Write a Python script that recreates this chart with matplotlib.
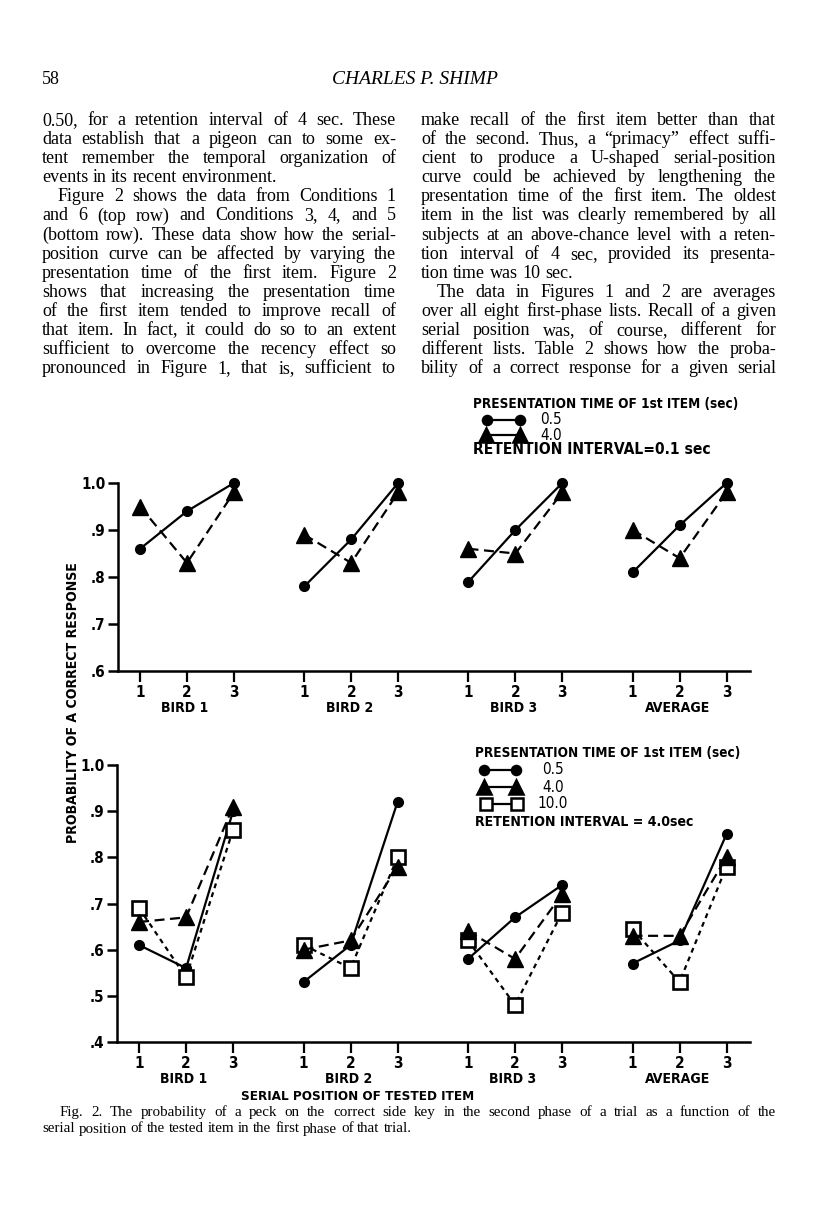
import numpy as np
import matplotlib
matplotlib.use('Agg')
import matplotlib.pyplot as plt
from matplotlib.lines import Line2D
from matplotlib import font_manager as fm

# ---------------- data ----------------
positions = [1, 2, 3]
pos_labels = ['1', '2', '3']
groups = ['BIRD 1', 'BIRD 2', 'BIRD 3', 'AVERAGE']

# top row: retention interval 0.1 sec
top_05 = [[0.86, 0.94, 1.00], [0.78, 0.88, 1.00], [0.79, 0.90, 1.00], [0.81, 0.91, 1.00]]
top_40 = [[0.95, 0.83, 0.98], [0.89, 0.83, 0.98], [0.86, 0.85, 0.98], [0.90, 0.84, 0.98]]

# bottom row: retention interval 4.0 sec
bot_05 = [[0.61, 0.56, 0.90], [0.53, 0.61, 0.92], [0.58, 0.67, 0.74], [0.57, 0.62, 0.85]]
bot_40 = [[0.66, 0.67, 0.91], [0.60, 0.62, 0.78], [0.64, 0.58, 0.72], [0.63, 0.63, 0.80]]
bot_100 = [[0.69, 0.54, 0.86], [0.61, 0.56, 0.80], [0.62, 0.48, 0.68], [0.645, 0.53, 0.78]]

legend_title = 'PRESENTATION TIME OF 1st ITEM (sec)'
top_retention = 'RETENTION INTERVAL=0.1 sec'
bot_retention = 'RETENTION INTERVAL = 4.0sec'
ylabel = 'PROBABILITY OF A CORRECT RESPONSE'
xlabel = 'SERIAL POSITION OF TESTED ITEM'

header_num = '58'
header_name = 'CHARLES P. SHIMP'

left_col = [
    ('0.50, for a retention interval of 4 sec. These', 0, True),
    ('data establish that a pigeon can to some ex-', 0, True),
    ('tent remember the temporal organization of', 0, True),
    ('events in its recent environment.', 0, False),
    ('Figure 2 shows the data from Conditions 1', 1, True),
    ('and 6 (top row) and Conditions 3, 4, and 5', 0, True),
    ('(bottom row). These data show how the serial-', 0, True),
    ('position curve can be affected by varying the', 0, True),
    ('presentation time of the first item. Figure 2', 0, True),
    ('shows that increasing the presentation time', 0, True),
    ('of the first item tended to improve recall of', 0, True),
    ('that item. In fact, it could do so to an extent', 0, True),
    ('sufficient to overcome the recency effect so', 0, True),
    ('pronounced in Figure 1, that is, sufficient to', 0, True),
]
right_col = [
    ('make recall of the first item better than that', 0, True),
    ('of the second. Thus, a \u201cprimacy\u201d effect suffi-', 0, True),
    ('cient to produce a U-shaped serial-position', 0, True),
    ('curve could be achieved by lengthening the', 0, True),
    ('presentation time of the first item. The oldest', 0, True),
    ('item in the list was clearly remembered by all', 0, True),
    ('subjects at an above-chance level with a reten-', 0, True),
    ('tion interval of 4 sec, provided its presenta-', 0, True),
    ('tion time was 10 sec.', 0, False),
    ('The data in Figures 1 and 2 are averages', 1, True),
    ('over all eight first-phase lists. Recall of a given', 0, True),
    ('serial position was, of course, different for', 0, True),
    ('different lists. Table 2 shows how the proba-', 0, True),
    ('bility of a correct response for a given serial', 0, True),
]
caption = [
    ('Fig. 2. The probability of a peck on the correct side key in the second phase of a trial as a function of the', 1, True),
    ('serial position of the tested item in the first phase of that trial.', 0, False),
]

# ---------------- fonts ----------------
SERIF = ['Liberation Serif', 'DejaVu Serif']
CH = {'family': ['Liberation Sans', 'DejaVu Sans']}
K = 1.0
try:
    fm.findfont(fm.FontProperties(family='Liberation Sans Narrow', weight='bold'),
                fallback_to_default=False)
    CH = {'family': ['Liberation Sans Narrow', 'Liberation Sans']}
    K = 1.15
except Exception:
    try:
        p = fm.findfont(fm.FontProperties(family='DejaVu Sans', stretch='condensed',
                                          weight='bold'), fallback_to_default=False)
        if 'ondensed' in p:
            CH = {'family': ['DejaVu Sans'], 'stretch': 'condensed'}
            K = 1.05
    except Exception:
        pass

W, H = 816, 1207
fig = plt.figure(figsize=(W / 100, H / 100), dpi=100)
fig.patch.set_facecolor('white')


def fx(x):
    return x / W


def fy(y):
    return 1 - y / H


def style_axes(ax, ylo):
    for s in ['top', 'right']:
        ax.spines[s].set_visible(False)
    for s in ['left', 'bottom']:
        ax.spines[s].set_linewidth(1.8)
    ax.set_xlim(0.53, 14.0)
    ax.set_ylim(ylo, 1.0)
    xt = [g * 3.5 + p for g in range(len(groups)) for p in positions]
    ax.set_xticks(xt)
    ax.set_xticklabels(pos_labels * len(groups))
    yt = np.round(np.arange(ylo, 1.0001, 0.1), 1)
    ax.set_yticks(yt)
    ax.set_yticklabels(['1.0' if v >= 0.999 else '.%d' % round(v * 10) for v in yt])
    ax.tick_params(axis='x', direction='out', length=8, width=1.6, pad=2, labelsize=11)
    ax.tick_params(axis='y', direction='out', length=7, width=1.8, pad=2, labelsize=11)
    for lab in ax.get_xticklabels() + ax.get_yticklabels():
        lab.set_fontfamily(CH['family'])
        if 'stretch' in CH:
            lab.set_fontstretch(CH['stretch'])
        lab.set_fontweight('bold')
    for g, name in enumerate(groups):
        ax.annotate(name, xy=(g * 3.5 + 2, 0), xycoords=('data', 'axes fraction'),
                    xytext=(-2, -37), textcoords='offset pixels', ha='center', va='center',
                    fontsize=9.6 * K, fontweight='bold', **CH)
    ax.set_facecolor('none')


ax_top = fig.add_axes([fx(118), fy(671), 632 / W, 188 / H])
ax_bot = fig.add_axes([fx(117), fy(1042), 633 / W, 277 / H])
style_axes(ax_top, 0.6)
style_axes(ax_bot, 0.4)

dash_long = (0, (4.5, 2.5))
dash_short = (0, (2.2, 2.0))

for g in range(len(groups)):
    xs = [g * 3.5 + p for p in positions]
    ax_top.plot(xs, top_40[g], ls=dash_long, color='black', lw=1.6, marker='^', ms=11.5,
                clip_on=False, zorder=3)
    ax_top.plot(xs, top_05[g], ls='-', color='black', lw=1.6, marker='o', ms=7,
                clip_on=False, zorder=4)

    ax_bot.plot(xs, bot_05[g], ls='-', color='black', lw=1.6, marker='o', ms=7,
                clip_on=False, zorder=3)
    ax_bot.plot(xs, bot_100[g], ls=dash_short, color='black', lw=1.6, marker='s', ms=9.5,
                mfc='white', mec='black', mew=1.9, clip_on=False, zorder=4)
    ax_bot.plot(xs, bot_40[g], ls=dash_long, color='black', lw=1.6, marker='^', ms=11.5,
                clip_on=False, zorder=5)


# ---------------- legends ----------------
def leg_item(y, x1, x2, marker, ms, mfc, label, xt):
    fig.add_artist(Line2D([fx(x1), fx(x2)], [fy(y), fy(y)], transform=fig.transFigure,
                          color='black', lw=1.6, marker=marker, ms=ms, mfc=mfc,
                          mec='black', mew=1.8))
    fig.text(fx(xt), fy(y), label, ha='left', va='center', fontsize=10.5 * K, **CH)


def sans_text(x, y, s, size=10, **kw):
    fig.text(fx(x), fy(y), s, ha='left', va='center', fontsize=size * K,
             fontweight='bold', **CH, **kw)


sans_text(473, 404, legend_title, size=9.3)
leg_item(420, 487, 520, 'o', 6.5, 'black', '0.5', 540)
leg_item(435, 486, 520, '^', 10.5, 'black', '4.0', 540)
sans_text(473, 449, top_retention, size=10.6)

sans_text(475, 753, legend_title, size=9.3)
leg_item(770, 484, 516, 'o', 6.5, 'black', '0.5', 542)
leg_item(787, 484, 516, '^', 10.5, 'black', '4.0', 542)
leg_item(804, 486, 517, 's', 8.5, 'white', '10.0', 537)
sans_text(475, 822, bot_retention, size=9.6)

fig.text(fx(73), fy(703), ylabel, rotation=90, ha='center', va='center',
         fontsize=9.6 * K, fontweight='bold', **CH)
fig.text(fx(358), fy(1097), xlabel, ha='center', va='center',
         fontsize=9.2 * K, fontweight='bold', **CH)

# ---------------- body text ----------------
renderer = fig.canvas.get_renderer()


def set_line(text, x0, x1, ybase, size, family, justify, indent=0, style='normal'):
    words = text.split(' ')
    arts = [fig.text(0, 0, w, fontsize=size, family=family, style=style,
                     ha='left', va='baseline') for w in words]
    widths = [a.get_window_extent(renderer).width for a in arts]
    x0 = x0 + indent
    if justify and len(words) > 1:
        gap = (x1 - x0 - sum(widths)) / (len(words) - 1)
    else:
        probe = fig.text(0, 0, 'a a', fontsize=size, family=family)
        probe2 = fig.text(0, 0, 'aa', fontsize=size, family=family)
        gap = probe.get_window_extent(renderer).width - probe2.get_window_extent(renderer).width
        probe.remove()
        probe2.remove()
    x = x0
    for a, w in zip(arts, widths):
        a.set_position((fx(x), fy(ybase)))
        x += w + gap


BODY = 13
y0, dy = 125, 19.1
for i, (t, ind, j) in enumerate(left_col):
    set_line(t, 42, 396, y0 + i * dy, BODY, SERIF, j, indent=16 * ind)
for i, (t, ind, j) in enumerate(right_col):
    set_line(t, 421, 776, y0 + i * dy, BODY, SERIF, j, indent=16 * ind)

fig.text(fx(42), fy(84), header_num, fontsize=BODY, family=SERIF, ha='left', va='baseline')
fig.text(fx(415), fy(84), header_name, fontsize=14, family=SERIF, style='italic',
         ha='center', va='baseline')

for i, (t, ind, j) in enumerate(caption):
    set_line(t, 42, 776, 1116 + i * 16.5, 10.8, SERIF, j, indent=18 * ind)

fig.savefig('out.png', dpi=100, facecolor='white')
